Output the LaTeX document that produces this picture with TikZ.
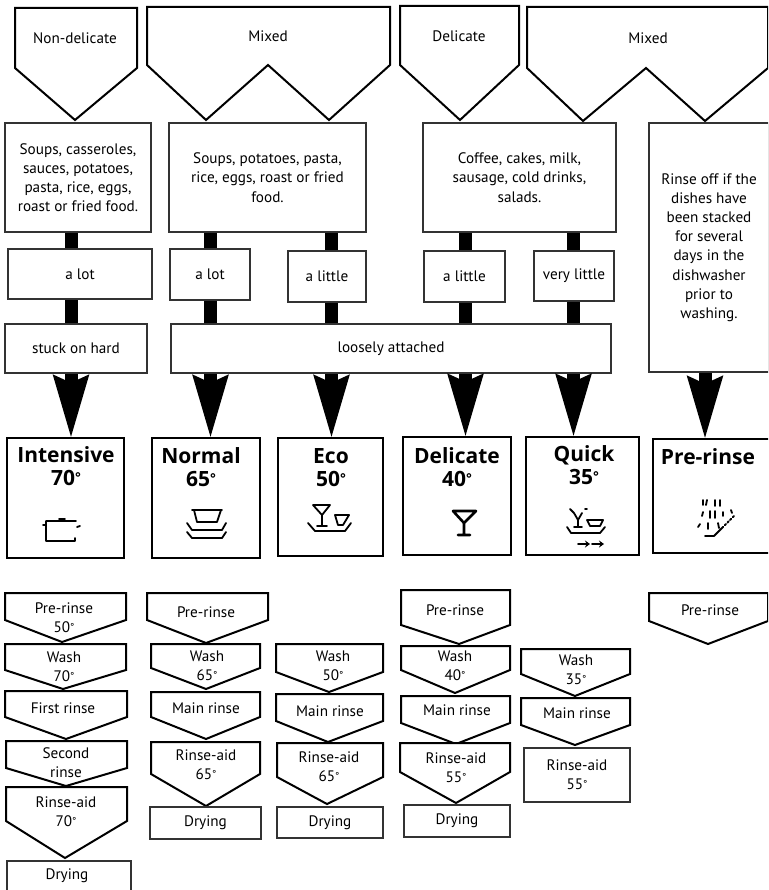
\documentclass[tikz,border=0pt]{standalone}
\usepackage{fontspec}
\setmainfont{PT Sans}
\newfontfamily\titlefont{Open Sans}
\usetikzlibrary{
    arrows.meta,
    calc
}
\tikzset{
    stageline/.style={draw=black, fill=white, line width=2pt, line join=miter},
    stagetext/.style={align=center, inner sep=0pt, font=\fontsize{15.2}{19.2}\selectfont},
    plainbox/.style={draw=black!80, fill=white, line width=2pt, inner sep=0pt, align=center, text=black, font=\fontsize{15.2}{19.2}\selectfont},
    progbox/.style={draw=black, fill=white, line width=2pt, inner sep=0pt},
    progtext/.style={align=center, inner sep=0pt, font=\titlefont\fontsize{21}{23}\selectfont\bfseries},
    stembar/.style={line width=13pt, black},
    bigarrow/.style={line width=13pt, black, shorten >=-2pt, -{Stealth[length=62pt, width=33pt, inset=6pt]}},
    iconline/.style={line width=1.8pt, black, line cap=round, line join=round}
}
\newcommand{\degr}{\scalebox{.65}{\raisebox{.45ex}{°}}}
\newcommand{\stagepent}[6]{
    \draw[stageline] (#1, #3) -- (#2, #3) -- (#2, #4) -- (#5, #6) -- (#1, #4) -- cycle;
}
\newcommand{\mixedpent}[9]{
    \draw[stageline] (#1, #3) -- (#2, #3) -- (#2, #4) -- (#8, #9) -- (#6, #7) -- (#5, #9) -- (#1, #4) -- cycle;
}
\begin{document}
\begin{tikzpicture}[x=1pt, y=-1pt]
    \useasboundingbox (0, 0) rectangle (768, 890);
    \clip (0, 0) rectangle (768, 890);
    \coordinate (laneA) at (71, 0);
    \coordinate (laneB) at (210.5, 0);
    \coordinate (laneC) at (331.5, 0);
    \coordinate (laneD) at (465.5, 0);
    \coordinate (laneE) at (573.5, 0);
    \coordinate (laneF) at (705, 0);

    % dish groups
    \stagepent{15}{137}{8}{68}{75}{120}
    \node[stagetext] (nondelicate) at (75, 38) {Non-delicate};
    \mixedpent{147}{390}{7}{65}{206}{268}{65}{329}{120}
    \node[stagetext] (mixedA) at (268, 36) {Mixed};
    \stagepent{400}{519}{6}{65}{460}{120}
    \node[stagetext] (delicategroup) at (459, 36) {Delicate};
    \mixedpent{527}{768}{7}{68}{583}{646}{68}{705}{121}
    \node[stagetext] (mixedB) at (648, 38) {Mixed};

    % food
    \node[plainbox, minimum width=146, minimum height=109] (foodA) at (78, 177.5) {Soups, casseroles,\\sauces, potatoes,\\pasta, rice, eggs,\\roast or fried food.};
    \node[plainbox, minimum width=197, minimum height=109] (foodB) at (267.5, 177.5) {Soups, potatoes, pasta,\\rice, eggs, roast or fried\\food.};
    \node[plainbox, minimum width=193, minimum height=109] (foodC) at (519.5, 177.5) {Coffee, cakes, milk,\\sausage, cold drinks,\\salads.};
    \node[plainbox, minimum width=120, minimum height=249] (foodD) at (709, 247.5) {Rinse off if the\\dishes have\\been stacked\\for several\\days in the\\dishwasher\\prior to\\washing.};

    % amount of food
    \node[plainbox, minimum width=144, minimum height=50] (alotA) at (80, 274) {a lot};
    \node[plainbox, minimum width=80, minimum height=51] (alotB) at (210, 274.5) {a lot};
    \node[plainbox, minimum width=78, minimum height=51] (littleB) at (327, 276.5) {a little};
    \node[plainbox, minimum width=81, minimum height=51] (littleC) at (464.5, 276.5) {a little};
    \node[plainbox, minimum width=80, minimum height=50] (verylittle) at (574, 276) {very little};

    % soil
    \node[plainbox, minimum width=142, minimum height=49] (stuck) at (76, 348) {stuck on hard};
    \node[plainbox, minimum width=440, minimum height=49] (loose) at (391, 348.5) {loosely attached};

    % programmes
    \node[progbox, minimum width=117, minimum height=120] (intensive) at (65.5, 498) {};
    \node[progbox, minimum width=108, minimum height=120] (normal) at (206, 498) {};
    \node[progbox, minimum width=105, minimum height=118] (eco) at (330.5, 497) {};
    \node[progbox, minimum width=108, minimum height=118] (delicate) at (457, 496) {};
    \node[progbox, minimum width=113, minimum height=118] (quick) at (582.5, 496) {};
    \node[progbox, minimum width=120, minimum height=114] (prerinse) at (713, 496) {};
    \node[progtext] (intensivetext) at (66, 466) {Intensive\\70\degr};
    \node[progtext] (normaltext) at (201, 467) {Normal\\65\degr};
    \node[progtext] (ecotext) at (331, 468) {Eco\\50\degr};
    \node[progtext] (delicatetext) at (457, 467) {Delicate\\40\degr};
    \node[progtext] (quicktext) at (584, 465) {Quick\\35\degr};
    \node[progtext] (prerinsetext) at (708, 457) {Pre-rinse};

    % stems
    \draw[stembar] (laneA |- foodA.south) -- (laneA |- alotA.north);
    \draw[stembar] (laneA |- alotA.south) -- (laneA |- stuck.north);
    \draw[stembar] (laneB |- foodB.south) -- (laneB |- alotB.north);
    \draw[stembar] (laneB |- alotB.south) -- (laneB |- loose.north);
    \draw[stembar] (laneC |- foodB.south) -- (laneC |- littleB.north);
    \draw[stembar] (laneC |- littleB.south) -- (laneC |- loose.north);
    \draw[stembar] (laneD |- foodC.south) -- (laneD |- littleC.north);
    \draw[stembar] (laneD |- littleC.south) -- (laneD |- loose.north);
    \draw[stembar] (laneE |- foodC.south) -- (laneE |- verylittle.north);
    \draw[stembar] (laneE |- verylittle.south) -- (laneE |- loose.north);

    \draw[bigarrow] (laneA |- stuck.south) -- (laneA |- intensive.north);
    \draw[bigarrow] (laneB |- loose.south) -- (laneB |- normal.north);
    \draw[bigarrow] (laneC |- loose.south) -- (laneC |- eco.north);
    \draw[bigarrow] (laneD |- loose.south) -- (laneD |- delicate.north);
    \draw[bigarrow] (laneE |- loose.south) -- (laneE |- quick.north);
    \draw[bigarrow] (laneF |- foodD.south) -- (laneF |- prerinse.north);

    % icons
    \draw[iconline] (46, 521) -- (76, 521) (46, 521) -- (46, 541) -- (75, 541) -- (75, 538);
    \draw[iconline] (59, 519) -- (65, 519) (43, 525) -- (46, 525) (77, 527) -- (80, 526);
    \draw[iconline] (192, 510) -- (222, 510) (194, 510) -- (197, 522) -- (217, 522) -- (221, 510);
    \draw[iconline] (187, 523) -- (192, 530) -- (222, 530) -- (226, 523);
    \draw[iconline] (187, 532) -- (192, 538) -- (222, 538) -- (226, 532);
    \draw[iconline] (313, 505) -- (330, 505) -- (322, 515) -- (313, 505) (322, 515) -- (322, 526) (317, 526) -- (327, 526);
    \draw[iconline] (335, 515) -- (349, 515) -- (343, 525) -- (338, 525) -- cycle;
    \draw[iconline] (308, 523) -- (315, 531) -- (345, 531) -- (351, 523);
    \draw[iconline, line width=2.6pt] (453, 511) -- (476, 511) -- (464, 523) -- cycle (464, 523) -- (464, 534) (458, 535) -- (470, 535);
    \draw[iconline] (570, 509) -- (574, 513) -- (578, 520) -- (582, 513) (585, 509) -- (587, 509) (578, 520) -- (578, 527) (574, 527) -- (582, 527);
    \draw[iconline] (587, 520) -- (603, 520) -- (600, 526) -- (590, 526) -- cycle;
    \draw[iconline] (567, 527) -- (571, 533) -- (600, 533) -- (605, 527);
    \draw[iconline, -{Stealth[length=5pt, width=7pt]}] (578, 544) -- (590, 544);
    \draw[iconline, -{Stealth[length=5pt, width=7pt]}] (592, 544) -- (604, 544);
    \draw[iconline] (703, 500) -- (703, 505) (707, 500) -- (706, 505) (715, 500) -- (715, 506) (720, 500) -- (720, 506);
    \draw[iconline] (702, 516) -- (703, 512) (710, 511) -- (710, 518) (715, 511) -- (715, 518) (723, 512) -- (723, 516) (731, 510) -- (732, 513);
    \draw[iconline] (698, 527) -- (700, 524) (708, 523) -- (708, 529) (718, 523) -- (719, 528);
    \draw[iconline] (705, 536) -- (714, 536) -- (722, 528);
    \draw[iconline, dotted] (722, 528) -- (735, 515);

    % cycle steps
    \stagepent{5}{126}{593}{620}{62}{642}
    \node[stagetext] (prerinseA) at (64, 617.5) {Pre-rinse\\50\degr};
    \stagepent{5}{126}{644}{670}{63}{689}
    \node[stagetext] (washA) at (64, 667) {Wash\\70\degr};
    \stagepent{5}{127}{691}{717}{66}{739}
    \node[stagetext] (firstrinse) at (63, 708) {First rinse};
    \stagepent{6}{127}{741}{768}{66}{786}
    \node[stagetext] (secondrinse) at (66, 763) {Second\\rinse};
    \stagepent{6}{127}{787}{821}{65}{858}
    \node[stagetext] (aidA) at (66, 811.5) {Rinse-aid\\70\degr};
    \node[plainbox, minimum width=124, minimum height=60] (dryingA) at (69, 891) {};
    \node[stagetext] (dryingAtext) at (67, 876) {Drying};

    \stagepent{147}{268}{593}{620}{206}{643}
    \node[stagetext] (prerinseB) at (206, 612) {Pre-rinse};
    \stagepent{151}{260}{644}{668}{206}{689}
    \node[stagetext] (washB) at (207, 665.5) {Wash\\65\degr};
    \stagepent{151}{260}{692}{717}{206}{739}
    \node[stagetext] (mainB) at (206, 708) {Main rinse};
    \stagepent{151}{260}{742}{774}{206}{806}
    \node[stagetext] (aidB) at (206, 764.5) {Rinse-aid\\65\degr};
    \node[plainbox, minimum width=111, minimum height=32] (dryingB) at (205.5, 823) {Drying};

    \stagepent{276}{383}{644}{672}{329}{692}
    \node[stagetext] (washC) at (333, 665.5) {Wash\\50\degr};
    \stagepent{276}{383}{694}{721}{328}{742}
    \node[stagetext] (mainC) at (330, 711) {Main rinse};
    \stagepent{277}{383}{743}{777}{327}{804}
    \node[stagetext] (aidC) at (329, 766.5) {Rinse-aid\\65\degr};
    \node[plainbox, minimum width=106, minimum height=31] (dryingC) at (330, 822.5) {Drying};

    \stagepent{401}{510}{590}{625}{459}{644}
    \node[stagetext] (prerinseD) at (455, 610) {Pre-rinse};
    \stagepent{401}{510}{646}{670}{455}{693}
    \node[stagetext] (washD) at (455, 665.5) {Wash\\40\degr};
    \stagepent{401}{510}{696}{723}{456}{744}
    \node[stagetext] (mainD) at (457, 710) {Main rinse};
    \stagepent{400}{510}{743}{772}{456}{803}
    \node[stagetext] (aidD) at (456, 767.5) {Rinse-aid\\55\degr};
    \node[plainbox, minimum width=106, minimum height=32] (dryingD) at (457, 821) {Drying};

    \stagepent{521}{630}{649}{674}{575}{696}
    \node[stagetext] (washE) at (576, 669.5) {Wash\\35\degr};
    \stagepent{521}{630}{698}{725}{575}{745}
    \node[stagetext] (mainE) at (577, 713) {Main rinse};
    \node[plainbox, minimum width=106, minimum height=54] (aidE) at (577, 775) {Rinse-aid\\55\degr};

    \stagepent{649}{768}{593}{621}{708}{644}
    \node[stagetext] (prerinseF) at (710, 610) {Pre-rinse};
\end{tikzpicture}
\end{document}
